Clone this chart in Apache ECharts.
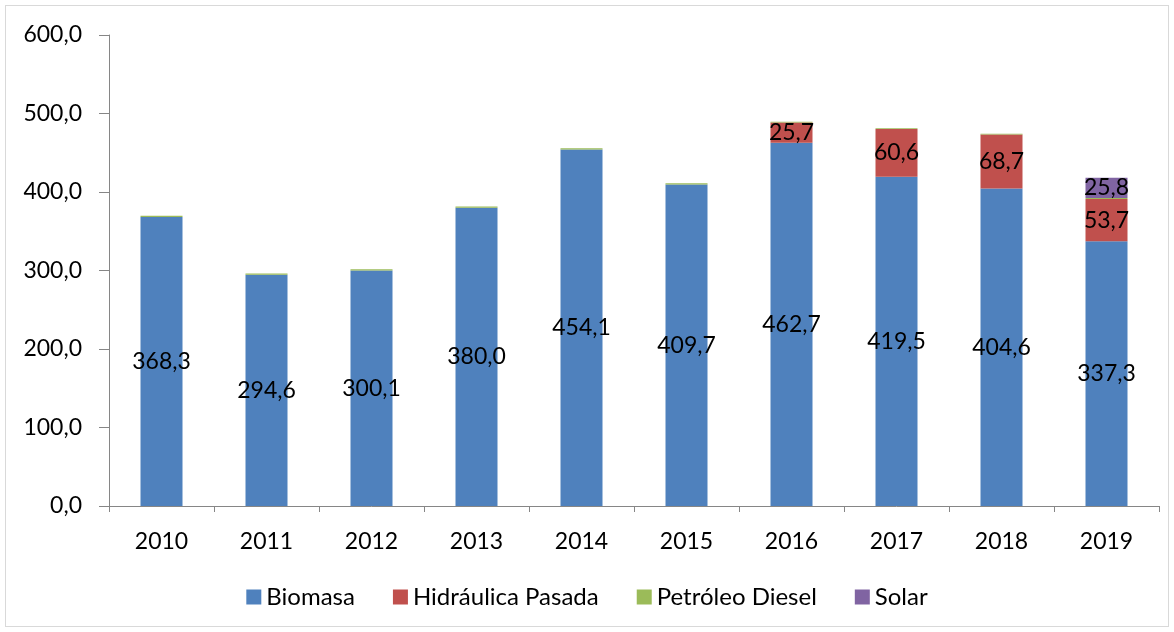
<!DOCTYPE html>
<html>
<head>
<meta charset="utf-8">
<script src="https://cdn.jsdelivr.net/npm/echarts@6/dist/echarts.min.js"></script>
<style>
	html,body{margin:0;padding:0;background:#fff;}
	#main{position:absolute;left:5px;top:5px;width:1164px;height:622px;border:1px solid #d9d9d9;box-sizing:border-box;}
</style>
</head>
<body>
<div id="main"></div>
<script>
'use strict'
let years = ['2010','2011','2012','2013','2014','2015','2016','2017','2018','2019'];
let biomasa = [368.3, 294.6, 300.1, 380.0, 454.1, 409.7, 462.7, 419.5, 404.6, 337.3];
let hidraulica = [0, 0, 0, 0, 0, 0, 25.7, 60.6, 68.7, 53.7];
let diesel = [1.5, 1.5, 1.5, 1.5, 1.5, 1.5, 1.0, 1.0, 1.0, 1.5];
let solar = [0, 0, 0, 0, 0, 0, 0, 0, 0, 25.8];
let names = ['Biomasa', 'Hidráulica Pasada', 'Petróleo Diesel', 'Solar'];
let colors = ['#4f81bd', '#c0504d', '#9bbb59', '#8064a2'];

window.onload = ()=>{
	let chart = echarts.init(document.getElementById('main'));
	let fmt = (v)=> v.toFixed(1).replace('.', ',');
	let lbl = {
		show: true,
		position: 'inside',
		color: '#000',
		fontSize: 23,
		fontFamily: 'Lato',
		formatter: (p)=> p.value ? fmt(p.value) : ''
	};
	let mk = (i, data, showLabel)=>({
		name: names[i],
		type: 'bar',
		stack: 'total',
		barWidth: '40%',
		data: data,
		itemStyle: {color: colors[i]},
		label: showLabel ? lbl : {show: false},
		emphasis: {disabled: true}
	});
	let option = {
		animation: false,
		textStyle: {fontFamily: 'Lato'},
		color: colors,
		grid: {left: 103, right: 9, top: 29, bottom: 120},
		legend: {
			bottom: 12,
			left: 'center',
			itemWidth: 15,
			itemHeight: 15,
			itemGap: 38,
			icon: 'rect',
			textStyle: {color: '#000', fontSize: 24, fontFamily: 'Lato'},
			data: names
		},
		xAxis: {
			type: 'category',
			data: years,
			axisLine: {lineStyle: {color: '#868686'}},
			axisTick: {show: true, length: 6, lineStyle: {color: '#868686'}},
			axisLabel: {color: '#000', fontSize: 23, margin: 24}
		},
		yAxis: {
			type: 'value',
			min: 0,
			max: 600,
			interval: 100,
			axisLine: {show: true, lineStyle: {color: '#868686'}},
			axisTick: {show: true, length: 10, lineStyle: {color: '#868686'}},
			splitLine: {show: false},
			axisLabel: {color: '#000', fontSize: 23, margin: 27, formatter: fmt}
		},
		series: [
			mk(0, biomasa, true),
			mk(1, hidraulica, true),
			mk(2, diesel, false),
			mk(3, solar, true)
		]
	};
	chart.setOption(option);
}
</script>
</body>
</html>
